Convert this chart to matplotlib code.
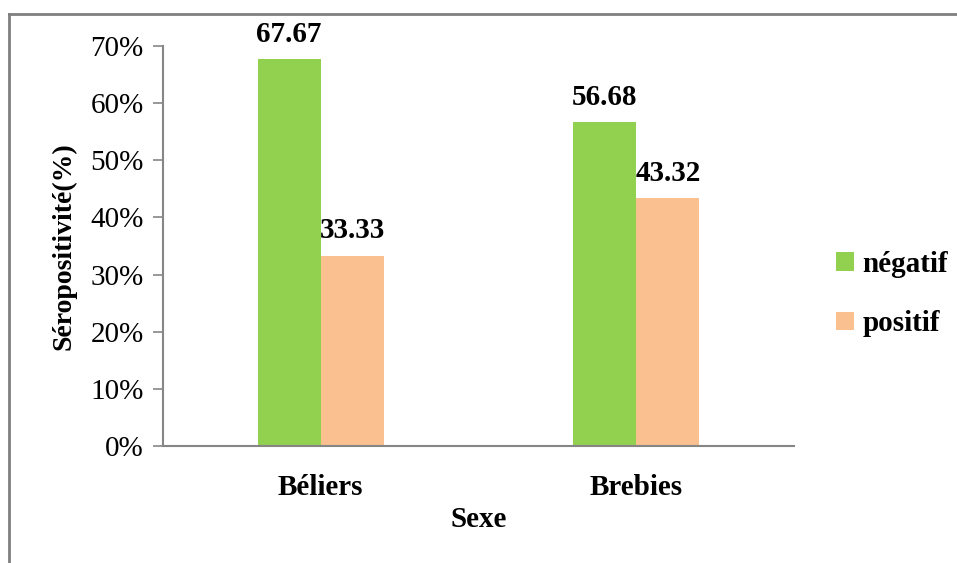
import matplotlib
matplotlib.use('Agg')
import matplotlib.pyplot as plt
import numpy as np
from matplotlib.lines import Line2D
from matplotlib.ticker import FuncFormatter

plt.rcParams['font.family'] = ['Liberation Serif', 'DejaVu Serif']

categories = ['Béliers', 'Brebies']
negatif = [67.67, 56.68]
positif = [33.33, 43.32]
yticks = [0, 10, 20, 30, 40, 50, 60, 70]

green = '#92D050'
orange = '#FAC090'
grey = '#868686'

fig = plt.figure(figsize=(9.57, 5.63), dpi=100)
ax = fig.add_axes([0.1703, 0.2078, 0.6594, 0.7105])

x = np.arange(len(categories))
w = 0.2
b1 = ax.bar(x - w / 2, negatif, w, color=green, label='négatif')
b2 = ax.bar(x + w / 2, positif, w, color=orange, label='positif')

for bars, vals in ((b1, negatif), (b2, positif)):
    for bar, v in zip(bars, vals):
        ax.text(bar.get_x() + bar.get_width() / 2, v + 2.0, '%.2f' % v,
                ha='center', va='bottom', fontsize=21, fontweight='bold')

ax.set_xlim(-0.5, 1.5)
ax.set_ylim(0, 70)
ax.set_yticks(yticks)
ax.yaxis.set_major_formatter(FuncFormatter(lambda v, p: '%d%%' % v))
ax.set_xticks(x)
ax.set_xticklabels(categories, fontsize=21, fontweight='bold')
ax.tick_params(axis='y', labelsize=21, length=7, width=1.2, color=grey, pad=7)
ax.tick_params(axis='x', length=0, pad=20)

for s in ('top', 'right'):
    ax.spines[s].set_visible(False)
for s in ('left', 'bottom'):
    ax.spines[s].set_color(grey)
    ax.spines[s].set_linewidth(1.5)

ax.set_ylabel('Séropositivité(%)', fontsize=20, fontweight='bold', labelpad=10)
ax.set_xlabel('Sexe', fontsize=21, fontweight='bold', labelpad=4)

leg = ax.legend(loc='center left', bbox_to_anchor=(1.025, 0.38), frameon=False,
                prop={'size': 21, 'weight': 'bold'}, handlelength=0.6,
                handleheight=0.6, handletextpad=0.3, labelspacing=1.1)

# outer frame (left and top edges only)
fig.add_artist(Line2D([9 / 957, 9 / 957], [0, 1 - 14 / 563],
                      transform=fig.transFigure, color='#7f7f7f', lw=2))
fig.add_artist(Line2D([9 / 957, 1], [1 - 14 / 563, 1 - 14 / 563],
                      transform=fig.transFigure, color='#7f7f7f', lw=2))

fig.savefig('out.png', dpi=100)
